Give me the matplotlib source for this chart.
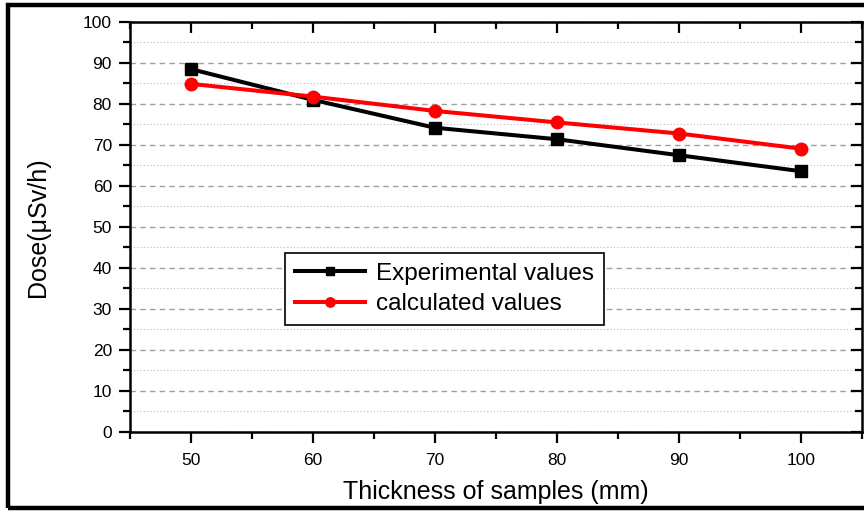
import matplotlib
matplotlib.use('Agg')
import matplotlib.pyplot as plt
from matplotlib.patches import Rectangle
from matplotlib.ticker import MultipleLocator

plt.rcParams['font.family'] = ['Liberation Sans', 'DejaVu Sans']

# thickness (mm) and dose (uSv/h)
thickness = [50, 60, 70, 80, 90, 100]
experimental = [88.5, 81.0, 74.2, 71.4, 67.5, 63.6]
calculated = [84.9, 81.8, 78.3, 75.5, 72.8, 69.1]

fig = plt.figure(figsize=(8.64, 5.11), dpi=100)
ax = fig.add_axes([0.1505, 0.1546, 0.8472, 0.8024])

# outer frame round the whole picture
fig.patches.append(Rectangle((0.009, 0.006), 1.2, 0.984, transform=fig.transFigure,
                             fill=False, edgecolor='black', linewidth=3.2))

ax.plot(thickness, experimental, color='black', lw=2.9, marker='s', ms=8.5,
        label='Experimental values', zorder=3)
ax.plot(thickness, calculated, color='red', lw=2.9, marker='o', ms=9,
        label='calculated values', zorder=3)

ax.set_xlim(45, 105)
ax.set_ylim(0, 100)
ax.xaxis.set_major_locator(MultipleLocator(10))
ax.xaxis.set_minor_locator(MultipleLocator(5))
ax.yaxis.set_major_locator(MultipleLocator(10))
ax.yaxis.set_minor_locator(MultipleLocator(5))

ax.grid(which='major', axis='y', color='#a0a0a0', ls=(0, (4, 3)), lw=1.0)
ax.grid(which='minor', axis='y', color='#bbbbbb', ls=(0, (1, 2)), lw=0.8)
ax.set_axisbelow(True)

for s in ax.spines.values():
    s.set_linewidth(1.8)

ax.tick_params(which='both', direction='out', width=1.6, labelsize=12.5, pad=5)
ax.tick_params(which='major', length=8)
ax.tick_params(which='minor', length=5)
ax.tick_params(which='both', top=True, right=True)
ax.tick_params(axis='x', pad=7)

# inward ticks on top and right
for t in ax.xaxis.get_major_ticks() + ax.xaxis.get_minor_ticks():
    t.tick2line.set_marker(3)
for t in ax.yaxis.get_major_ticks() + ax.yaxis.get_minor_ticks():
    t.tick2line.set_marker(0)

ax.set_xlabel('Thickness of samples (mm)', fontsize=18, labelpad=9)
ax.set_ylabel('Dose(μSv/h)', fontsize=18, labelpad=24)

leg = ax.legend(loc='upper left', bbox_to_anchor=(0.212, 0.437), fontsize=17.5,
                frameon=True, fancybox=False, edgecolor='black', framealpha=1,
                handlelength=2.9, markerscale=0.75, borderpad=0.4, labelspacing=0.35,
                handletextpad=0.45, borderaxespad=0)
leg.get_frame().set_linewidth(1.2)

fig.savefig('out.png', dpi=100)
